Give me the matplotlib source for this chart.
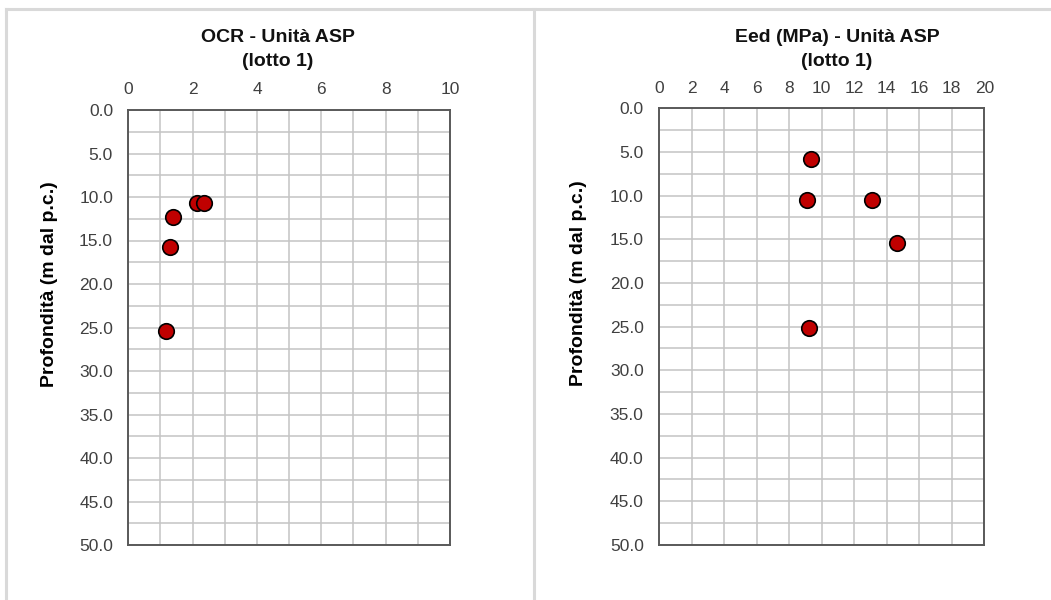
import matplotlib
matplotlib.use("Agg")
import matplotlib.pyplot as plt
from matplotlib.ticker import MultipleLocator, FormatStrFormatter
from matplotlib.lines import Line2D

plt.rcParams['font.family'] = ['Liberation Sans', 'DejaVu Sans']

# OCR profile (lotto 1)
ocr_values = [2.13, 2.35, 1.40, 1.29, 1.17]
ocr_depths = [10.7, 10.65, 12.3, 15.75, 25.4]

# Oedometric modulus profile (lotto 1)
eed_values = [9.34, 9.12, 13.07, 14.65, 9.22]
eed_depths = [5.8, 10.45, 10.45, 15.4, 25.1]

titles = ["OCR - Unità ASP", "Eed (MPa) - Unità ASP"]
subtitle = "(lotto 1)"
ylabel = "Profondità (m dal p.c.)"

W, H = 1051, 600
fig = plt.figure(figsize=(W / 100, H / 100), dpi=100)
fig.patch.set_facecolor("white")

# panel frames
frame_col = "#d9d9d9"
fig.add_artist(Line2D([5.5 / W, 1.0], [1 - 8.5 / H] * 2, color=frame_col, lw=2.2))
fig.add_artist(Line2D([5.5 / W] * 2, [0, 1 - 8.5 / H], color=frame_col, lw=2.2))
fig.add_artist(Line2D([533.5 / W] * 2, [0, 1 - 8.5 / H], color=frame_col, lw=2.2))

panels = [
    dict(rect=[128.3 / W, 55 / H, 321.7 / W, 435 / H],
         x=ocr_values, y=ocr_depths, xmax=10, xmajor=2, xgrid=1, title=titles[0],
         title_x=278 / W, label_x=-0.2185),
    dict(rect=[659 / W, 55 / H, 325.3 / W, 436.7 / H],
         x=eed_values, y=eed_depths, xmax=20, xmajor=2, xgrid=2, title=titles[1],
         title_x=837 / W, label_x=-0.221),
]

text_col = "#404040"
for p in panels:
    ax = fig.add_axes(p["rect"])
    ax.set_xlim(0, p["xmax"])
    ax.set_ylim(50, 0)
    ax.xaxis.tick_top()
    ax.xaxis.set_major_locator(MultipleLocator(p["xmajor"]))
    ax.xaxis.set_minor_locator(MultipleLocator(p["xgrid"]))
    ax.yaxis.set_major_locator(MultipleLocator(5))
    ax.yaxis.set_minor_locator(MultipleLocator(2.5))
    ax.yaxis.set_major_formatter(FormatStrFormatter("%.1f"))
    ax.tick_params(which="both", length=0, labelsize=12.5, colors=text_col)
    ax.tick_params(axis="y", pad=11)
    ax.tick_params(axis="x", pad=9)
    ax.grid(True, which="both", color="#c4c4c4", lw=1.1)
    ax.set_axisbelow(True)
    for s in ax.spines.values():
        s.set_color("#595959")
        s.set_linewidth(1.4)
    ax.scatter(p["x"], p["y"], s=125, c="#c00000", edgecolors="black",
               linewidths=1.2, zorder=3, clip_on=False)
    ax.set_ylabel(ylabel, fontsize=14, fontweight="bold", color="black")
    ax.yaxis.set_label_coords(p["label_x"], 0.6)
    fig.text(p["title_x"], 1 - 38 / H, p["title"], ha="center", va="center",
             fontsize=14, fontweight="bold", color="#111111")
    fig.text(p["title_x"], 1 - 61.5 / H, subtitle, ha="center", va="center",
             fontsize=14, fontweight="bold", color="#111111")

fig.savefig("out.png", dpi=100, facecolor="white")
